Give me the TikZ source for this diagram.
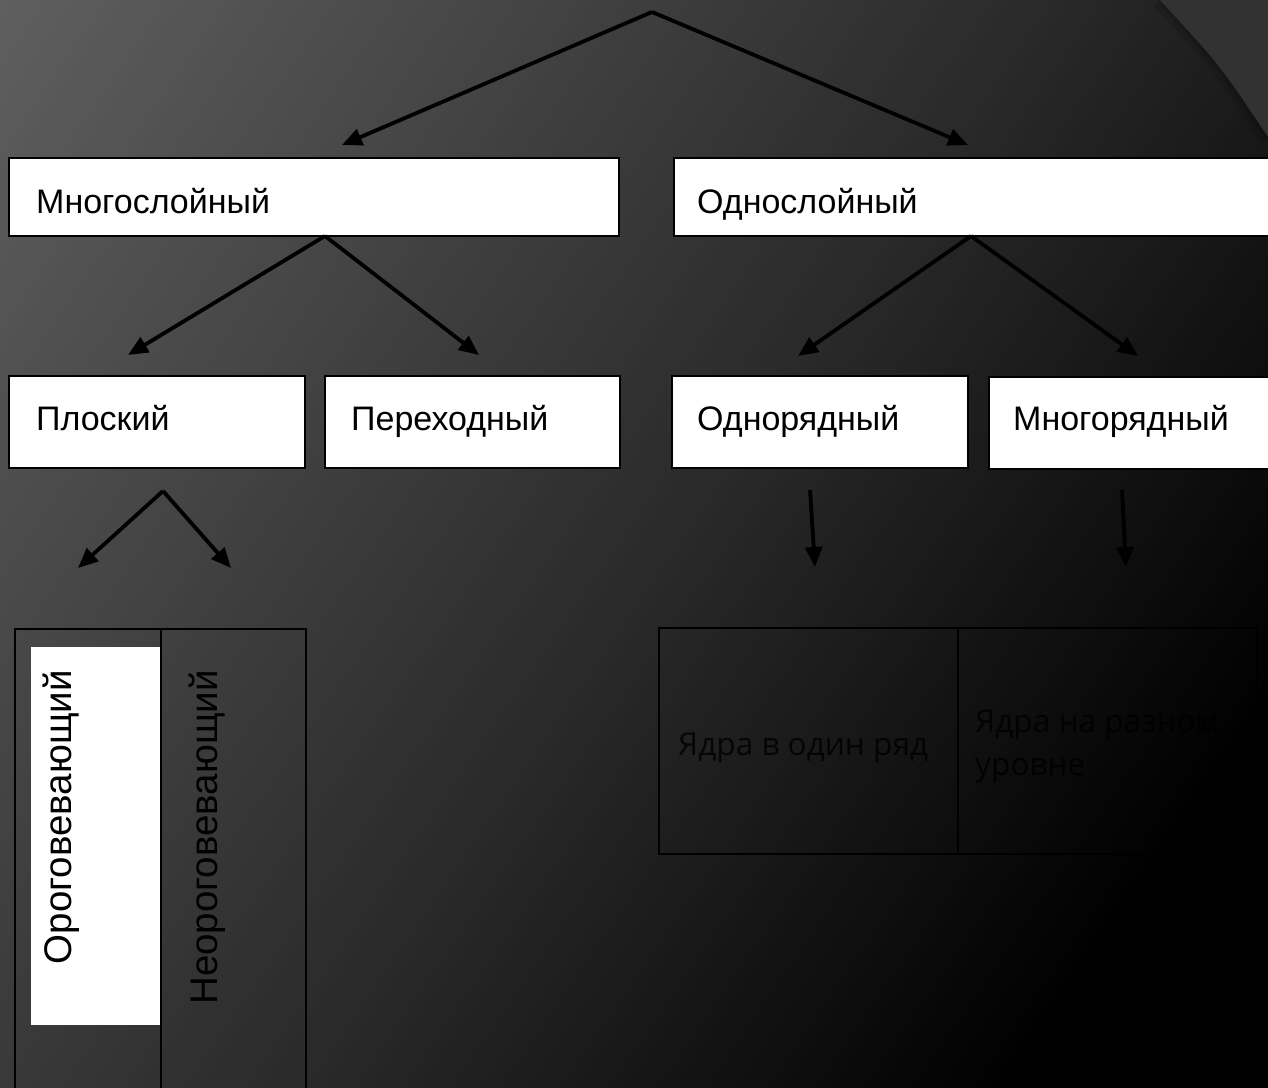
\documentclass[tikz,border=0pt]{standalone}
\usepackage{fontspec}
\setmainfont{Liberation Sans}
\newfontfamily\tblfont{Open Sans}
\usetikzlibrary{arrows.meta,calc}
\definecolor{arcgray}{RGB}{50,50,50}
\begin{document}
\begin{tikzpicture}[x=1pt,y=-1pt,
  box/.style={draw=black,line width=2.5pt,fill=white,rectangle,inner sep=0pt,outer sep=0pt,anchor=north west},
  lbl/.style={anchor=base west,inner sep=0pt,font=\fontsize{34}{40}\selectfont,text=black},
  vlbl/.style={rotate=90,anchor=base east,inner sep=0pt,font=\fontsize{38.5}{44}\selectfont,text=black},
  tlbl/.style={anchor=base west,inner sep=0pt,font=\tblfont\fontsize{31.6}{38}\selectfont,text=black,text opacity=0.8},
  conn/.style={line width=3.8pt,draw=black,-{Triangle[length=20pt,width=17pt]}},
  cell/.style={draw=black,line width=1.5pt,rectangle,inner sep=0pt,outer sep=0pt,anchor=north west},
]
\useasboundingbox (0,0) rectangle (1268,1087);
\clip (0,0) rectangle (1268,1087);
% background gradient
\begin{scope}[rotate=-34.5]
\foreach \i in {0,...,170}{
  \pgfmathsetmacro\s{10*\i+5}
  \pgfmathsetmacro\va{95-0.0619*\s}
  \pgfmathsetmacro\vb{max(0,0.0709*(1450-\s))}
  \pgfmathsetmacro\v{min(\va,\vb)}
  \pgfmathsetmacro\g{\v/255}
  \definecolor{bgc}{gray}{\g}
  \fill[bgc] (10*\i-0.5,-1200) rectangle (10*\i+11,1200);
}
\end{scope}
% top-right arc
\draw[black,opacity=0.10,line width=18pt] (1160,0) .. controls (1220,65) .. (1268,137);
\draw[black,opacity=0.12,line width=8pt] (1160,0) .. controls (1220,65) .. (1268,137);
\fill[arcgray] (1160,0) .. controls (1220,65) .. (1268,137) -- (1290,137) -- (1290,0) -- cycle;

% level 1 boxes
\node[box,minimum width=610pt,minimum height=78pt] (mnog) at (9,158) {};
\node[box,minimum width=620pt,minimum height=78pt] (odno) at (674,158) {};
% level 2 boxes
\node[box,minimum width=296pt,minimum height=92pt] (plos) at (9,376) {};
\node[box,minimum width=295pt,minimum height=92pt] (pere) at (325,376) {};
\node[box,minimum width=296pt,minimum height=92pt] (odnr) at (672,376) {};
\node[box,minimum width=300pt,minimum height=92pt] (mnor) at (989,377) {};

% labels
\node[lbl] (lmnog) at (36,213) {Многослойный};
\node[lbl] (lodno) at (697,213) {Однослойный};
\node[lbl] (lplos) at (36,430) {Плоский};
\node[lbl] (lpere) at (351,430) {Переходный};
\node[lbl] (lodnr) at (697,430) {Однорядный};
\node[lbl] (lmnor) at (1013,430) {Многорядный};

% connectors
\coordinate (apex) at (652,12);
\coordinate (t1) at (342,145);
\coordinate (t2) at (968,145);
\draw[conn] (apex) -- (t1);
\draw[conn] (apex) -- (t2);
\coordinate (mb) at ($(mnog.south west)+(316,0)$);
\coordinate (t3) at (128,355);
\coordinate (t4) at (479,355);
\draw[conn] (mb) -- (t3);
\draw[conn] (mb) -- (t4);
\coordinate (ob) at ($(odno.south west)+(297,0)$);
\coordinate (t5) at (798,356);
\coordinate (t6) at (1138,356);
\draw[conn] (ob) -- (t5);
\draw[conn] (ob) -- (t6);
\coordinate (papex) at (163,491);
\coordinate (t7) at (78,568);
\coordinate (t8) at (231,568);
\draw[conn] (papex) -- (t7);
\draw[conn] (papex) -- (t8);
\coordinate (s9) at (810,490);
\coordinate (t9) at (815,567);
\draw[conn] (s9) -- (t9);
\coordinate (s10) at (1122,490);
\coordinate (t10) at (1126,567);
\draw[conn] (s10) -- (t10);

% bottom-left table
\node[cell,minimum width=146pt,minimum height=480pt] (c1) at (15,629) {};
\node[cell,minimum width=145pt,minimum height=480pt] (c2) at (161,629) {};
\node[fill=white,inner sep=0pt,outer sep=0pt,anchor=north west,minimum width=129pt,minimum height=378pt] (wh) at (31,647) {};
\node[vlbl] (oro) at (71,670) {Ороговевающий};
\node[vlbl] (neoro) at (217,670) {Неороговевающий};

% bottom-right table
\node[cell,minimum width=299pt,minimum height=226pt] (c3) at (659,628) {};
\node[cell,minimum width=299pt,minimum height=226pt] (c4) at (958,628) {};
\node[tlbl] (ya1) at (678,755) {Ядра в один ряд};
\node[tlbl] (ya2) at (975,732) {Ядра на разном};
\node[tlbl] (ya3) at (975,775) {уровне};
\end{tikzpicture}
\end{document}
